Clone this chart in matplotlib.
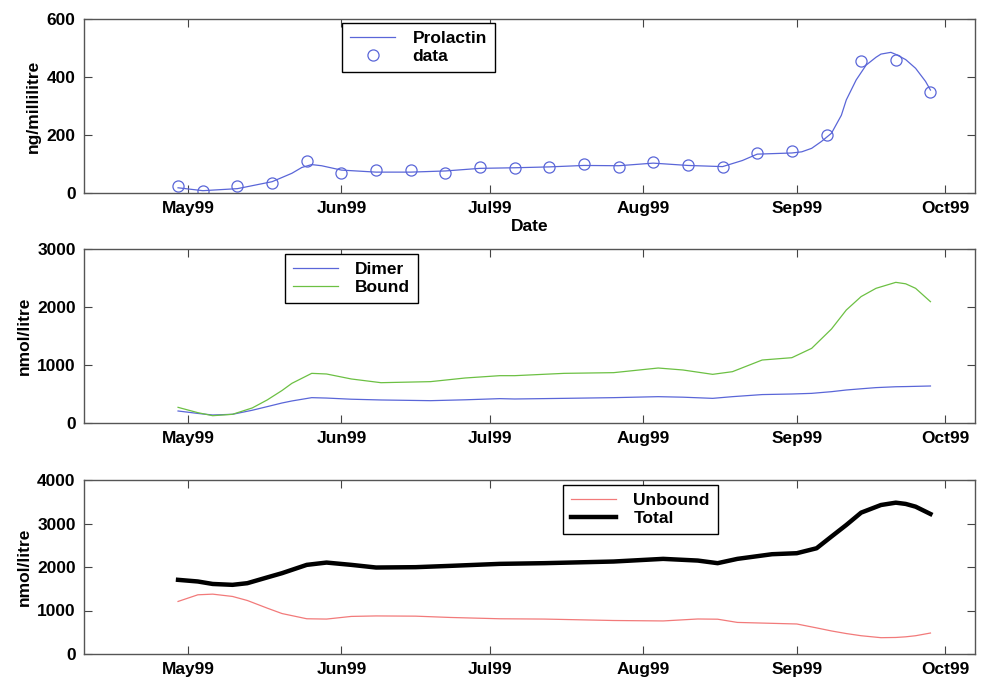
import numpy as np
import matplotlib
matplotlib.use("Agg")
import matplotlib.pyplot as plt
import matplotlib.dates as mdates

plt.rcParams['font.family'] = ['Liberation Sans', 'DejaVu Sans']
plt.rcParams['font.size'] = 12.5
plt.rcParams['font.weight'] = 'bold'
plt.rcParams['axes.labelweight'] = 'bold'

# weekly prolactin samples
data_dates = ['1999-04-29', '1999-05-04', '1999-05-11', '1999-05-18', '1999-05-25',
              '1999-06-01', '1999-06-08', '1999-06-15', '1999-06-22', '1999-06-29',
              '1999-07-06', '1999-07-13', '1999-07-20', '1999-07-27', '1999-08-03',
              '1999-08-10', '1999-08-17', '1999-08-24', '1999-08-31', '1999-09-07',
              '1999-09-14', '1999-09-21', '1999-09-28']
data_vals = [24, 8, 24, 34, 109, 69, 78, 78, 70, 91, 85, 91, 99, 91, 107,
             98, 89, 137, 144, 199, 454, 460, 349]

# fitted prolactin curve
prl_dates = ['1999-04-29', '1999-05-04', '1999-05-11', '1999-05-18', '1999-05-22',
             '1999-05-24', '1999-05-26', '1999-05-28', '1999-06-01', '1999-06-08',
             '1999-06-15', '1999-06-22', '1999-06-29', '1999-07-06', '1999-07-13',
             '1999-07-20', '1999-07-27', '1999-08-03', '1999-08-10', '1999-08-17',
             '1999-08-21', '1999-08-24', '1999-08-31', '1999-09-02', '1999-09-04',
             '1999-09-06', '1999-09-08', '1999-09-10', '1999-09-11', '1999-09-13',
             '1999-09-15', '1999-09-17', '1999-09-18', '1999-09-20', '1999-09-21',
             '1999-09-23', '1999-09-25', '1999-09-27', '1999-09-28']
prl_vals = [18, 8, 15, 39, 68, 88, 98, 94, 79, 72, 72, 76, 85, 87, 90, 95, 94, 103,
            95, 91, 112, 134, 138, 142, 154, 178, 206, 268, 321, 390, 441, 468, 479,
            485, 478, 460, 430, 385, 355]

# dimer and bound
mid_dates = ['1999-04-29', '1999-05-03', '1999-05-06', '1999-05-10', '1999-05-14',
             '1999-05-17', '1999-05-20', '1999-05-22', '1999-05-26', '1999-05-29',
             '1999-06-03', '1999-06-09', '1999-06-19', '1999-06-26', '1999-07-03',
             '1999-07-06', '1999-07-16', '1999-07-26', '1999-08-04', '1999-08-09',
             '1999-08-15', '1999-08-19', '1999-08-25', '1999-08-31', '1999-09-04',
             '1999-09-08', '1999-09-11', '1999-09-14', '1999-09-17', '1999-09-21',
             '1999-09-23', '1999-09-25', '1999-09-28']
dimer_vals = [207, 165, 138, 150, 220, 282, 345, 380, 437, 430, 410, 397, 385, 400,
              420, 414, 425, 437, 454, 445, 425, 454, 490, 500, 511, 540, 569, 590,
              610, 625, 628, 632, 638]
bound_vals = [270, 178, 126, 150, 260, 397, 560, 684, 856, 845, 759, 695, 713, 776,
              816, 816, 856, 868, 948, 914, 839, 885, 1086, 1126, 1287, 1620, 1948,
              2180, 2322, 2425, 2400, 2322, 2092]

# unbound and total
bot_dates = ['1999-04-29', '1999-05-03', '1999-05-06', '1999-05-10', '1999-05-13',
             '1999-05-17', '1999-05-20', '1999-05-25', '1999-05-29', '1999-06-03',
             '1999-06-08', '1999-06-16', '1999-06-23', '1999-07-03', '1999-07-12',
             '1999-07-26', '1999-08-05', '1999-08-12', '1999-08-16', '1999-08-20',
             '1999-08-27', '1999-09-01', '1999-09-05', '1999-09-08', '1999-09-11',
             '1999-09-14', '1999-09-18', '1999-09-21', '1999-09-23', '1999-09-25',
             '1999-09-28']
unbound_vals = [1208, 1361, 1376, 1323, 1230, 1055, 930, 810, 803, 864, 875, 870,
                840, 810, 803, 770, 760, 805, 800, 726, 705, 690, 600, 530, 470,
                420, 375, 380, 395, 420, 482]
total_vals = [1705, 1667, 1610, 1590, 1628, 1760, 1858, 2049, 2102, 2049, 1988,
              1996, 2026, 2072, 2088, 2126, 2187, 2148, 2088, 2187, 2294, 2317,
              2431, 2700, 2966, 3250, 3425, 3479, 3450, 3387, 3219]

months = ['1999-05-01', '1999-06-01', '1999-07-01', '1999-08-01', '1999-09-01', '1999-10-01']
xlim = ('1999-04-10', '1999-10-07')

d = lambda lst: np.array(lst, dtype='datetime64[D]')

fig = plt.figure(figsize=(9.82, 6.83), dpi=100)
W, H = 982, 683
def place(top, bottom):
    return fig.add_axes([84 / W, 1 - bottom / H, (975 - 84) / W, (bottom - top) / H])

ax1 = place(19, 193)
ax2 = place(249, 423)
ax3 = place(480, 654)

blue = '#5a66d8'
green = '#6cc043'
pink = '#f27a7a'
leg_kw = dict(loc='upper left', borderaxespad=0, fancybox=False, edgecolor='black',
              framealpha=1, handlelength=2.6, handletextpad=1.0, borderpad=0.45,
              labelspacing=0.15)

ax1.plot(d(prl_dates), prl_vals, color=blue, lw=0.9, label='Prolactin')
ax1.plot(d(data_dates), data_vals, 'o', mfc='none', mec=blue, ms=8, mew=0.9, label='data')
ax1.set_ylim(0, 600)
ax1.set_yticks([0, 200, 400, 600])
ax1.set_ylabel('ng/millilitre')
ax1.set_xlabel('Date', labelpad=2)
ax1.legend(bbox_to_anchor=(0.29, 0.977), **leg_kw)

ax2.plot(d(mid_dates), dimer_vals, color=blue, lw=0.9, label='Dimer')
ax2.plot(d(mid_dates), bound_vals, color=green, lw=0.9, label='Bound')
ax2.set_ylim(0, 3000)
ax2.set_yticks([0, 1000, 2000, 3000])
ax2.set_ylabel('nmol/litre')
ax2.legend(bbox_to_anchor=(0.2256, 0.971), **leg_kw)

ax3.plot(d(bot_dates), unbound_vals, color=pink, lw=0.9, label='Unbound')
ax3.plot(d(bot_dates), total_vals, color='black', lw=3.2, label='Total')
ax3.set_ylim(0, 4000)
ax3.set_yticks([0, 1000, 2000, 3000, 4000])
ax3.set_ylabel('nmol/litre')
ax3.legend(bbox_to_anchor=(0.5376, 0.971), **leg_kw)

for ax in (ax1, ax2, ax3):
    ax.set_xlim(d(xlim))
    ax.set_xticks(d(months))
    ax.xaxis.set_major_formatter(mdates.DateFormatter('%b%y'))
    ax.tick_params(direction='in', top=True, right=True, length=6, width=0.8,
                   color='#444444', pad=6)
    for s in ax.spines.values():
        s.set_color('#555555')
        s.set_linewidth(1.0)

fig.savefig('out.png', dpi=100)
